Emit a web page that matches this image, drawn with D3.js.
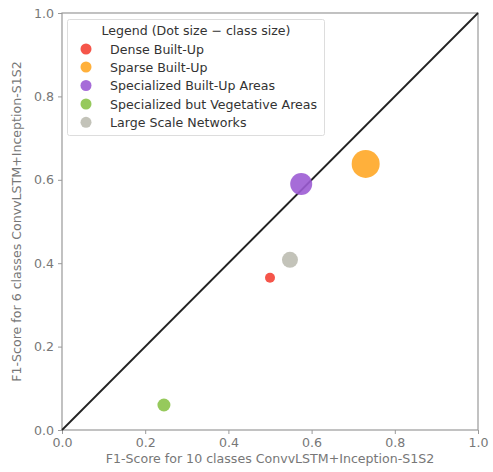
<!DOCTYPE html>
<html><head><meta charset="utf-8">
<script src="https://cdn.jsdelivr.net/npm/d3@7"></script>
<style>body{margin:0;background:#fff;} text{font-family:"DejaVu Sans",sans-serif;}</style>
</head><body>
<svg id="c" width="493" height="472"></svg>
<script>
const categories = ["Dense Built-Up","Sparse Built-Up","Specialized Built-Up Areas","Specialized but Vegetative Areas","Large Scale Networks"];
const xValues = [0.50, 0.73, 0.575, 0.245, 0.548];
const yValues = [0.365, 0.638, 0.59, 0.06, 0.408];
const sizes = [5, 14, 11, 6.5, 8];
const colors = ["#f44336","#ffa726","#9c5cd4","#8bc34a","#bdbdb1"];
const ticks = [0,0.2,0.4,0.6,0.8,1.0];

const svg = d3.select("#c");
const m = {l:62, r:478, t:13, b:430};
const x = d3.scaleLinear().domain([0,1]).range([m.l, m.r]);
const y = d3.scaleLinear().domain([0,1]).range([m.b, m.t]);
const fs = "12.6px";

// frame
svg.append("rect").attr("x",m.l).attr("y",m.t).attr("width",m.r-m.l).attr("height",m.b-m.t)
  .attr("fill","none").attr("stroke","#999").attr("stroke-width",1.2);

const xa = svg.append("g").attr("transform",`translate(0,${m.b})`)
  .call(d3.axisBottom(x).tickValues(ticks).tickFormat(d3.format(".1f")).tickSize(4).tickPadding(4));
const ya = svg.append("g").attr("transform",`translate(${m.l},0)`)
  .call(d3.axisLeft(y).tickValues(ticks).tickFormat(d3.format(".1f")).tickSize(4).tickPadding(4));
[xa,ya].forEach(a=>{
  a.select(".domain").remove();
  a.selectAll("line").attr("stroke","#999");
  a.selectAll("text").attr("fill","#777").style("font-size",fs).style("font-family","DejaVu Sans");
});

// diagonal
svg.append("line").attr("x1",x(0)).attr("y1",y(0)).attr("x2",x(1)).attr("y2",y(1))
  .attr("stroke","#222").attr("stroke-width",1.8);

// points
svg.append("g").selectAll("circle").data(categories).join("circle")
  .attr("cx",(d,i)=>x(xValues[i])).attr("cy",(d,i)=>y(yValues[i]))
  .attr("r",(d,i)=>sizes[i]).attr("fill",(d,i)=>colors[i]).attr("opacity",0.9);

// axis labels
svg.append("text").attr("x",(m.l+m.r)/2).attr("y",463).attr("text-anchor","middle")
  .attr("fill","#777").style("font-size",fs)
  .text("F1-Score for 10 classes ConvvLSTM+Inception-S1S2");
svg.append("text").attr("transform",`translate(21,${(m.t+m.b)/2}) rotate(-90)`).attr("text-anchor","middle")
  .attr("fill","#777").style("font-size",fs)
  .text("F1-Score for 6 classes ConvvLSTM+Inception-S1S2");

// legend
const lg = svg.append("g");
lg.append("rect").attr("x",67.5).attr("y",19.5).attr("width",257).attr("height",116).attr("rx",2)
  .attr("fill","#fff").attr("fill-opacity",0.85).attr("stroke","#ddd");
lg.append("text").attr("x",196).attr("y",34.5).attr("text-anchor","middle").attr("fill","#333")
  .style("font-size",fs).text("Legend (Dot size \u2212 class size)");
const ly = [49,67,85.5,104,122.3];
categories.forEach((c,i)=>{
  lg.append("circle").attr("cx",86).attr("cy",ly[i]).attr("r",5.5).attr("fill",colors[i]).attr("opacity",0.9);
  lg.append("text").attr("x",110).attr("y",ly[i]+4.5).attr("fill","#333").style("font-size",fs).text(c);
});
</script>
</body></html>
